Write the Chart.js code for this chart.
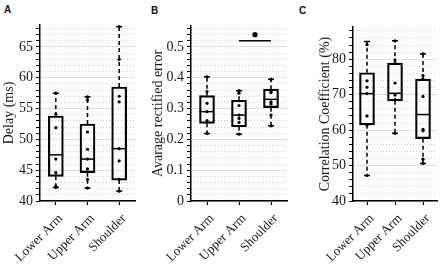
<!DOCTYPE html>
<html><head><meta charset="utf-8">
<script src="https://cdn.jsdelivr.net/npm/chart.js@4.4.1/dist/chart.umd.min.js"></script>
<style>
html,body{margin:0;padding:0;background:#fff;}
body{width:446px;height:269px;position:relative;overflow:hidden;}
.p{position:absolute;top:0;}
.lbl{position:absolute;font:bold 10px "Liberation Sans",Arial,sans-serif;color:#111;}
</style></head><body>
<div class="lbl" style="left:4px;top:4px">A</div>
<div class="lbl" style="left:151px;top:5px">B</div>
<div class="lbl" style="left:299px;top:5px">C</div>
<div class="p" style="left:0px"><canvas id="cA" width="148" height="269"></canvas></div>
<div class="p" style="left:148px"><canvas id="cB" width="148" height="269"></canvas></div>
<div class="p" style="left:296px"><canvas id="cC" width="150" height="269"></canvas></div>
<script>
const categories = ['Lower Arm', 'Upper Arm', 'Shoulder'];

// Panel A: Delay (ms)
const delayTicks = [40, 45, 50, 55, 60, 65];
const delayMin = [42.2, 42.1, 41.6];
const delayQ1 = [44.0, 44.6, 43.4];
const delayMedian = [47.5, 46.8, 48.5];
const delayQ3 = [53.8, 52.5, 58.5];
const delayMax = [57.5, 56.9, 68.3];
const delayLowerArm = [57.5, 54.1, 51.9, 46.8, 44.6, 42.4, 42.2];
const delayUpperArm = [56.9, 56.4, 51.2, 48.4, 46.8, 45.2, 43.5, 42.1];
const delayShoulder = [68.3, 63.0, 57.0, 56.1, 48.5, 46.5, 43.5, 41.6];

// Panel B: Avarage rectified error
const areTicks = [0, 0.1, 0.2, 0.3, 0.4, 0.5];
const areMin = [0.219, 0.217, 0.244];
const areQ1 = [0.252, 0.241, 0.303];
const areMedian = [0.290, 0.279, 0.330];
const areQ3 = [0.342, 0.327, 0.363];
const areMax = [0.403, 0.358, 0.395];
const areLowerArm = [0.403, 0.355, 0.317, 0.290, 0.261, 0.219];
const areUpperArm = [0.358, 0.350, 0.310, 0.279, 0.268, 0.255, 0.217];
const areShoulder = [0.395, 0.355, 0.352, 0.322, 0.315, 0.279, 0.244];
const areSigBar = 0.52;
const areSigStar = 0.54;

// Panel C: Correlation Coefficient (%)
const ccTicks = [40, 50, 60, 70, 80];
const ccMin = [47.2, 59.1, 50.6];
const ccQ1 = [61.5, 68.3, 57.6];
const ccMedian = [70.3, 70.4, 64.4];
const ccQ3 = [76.2, 78.9, 74.4];
const ccMax = [85.0, 85.2, 81.5];
const ccLowerArm = [84.1, 73.9, 72.1, 70.3, 64.0, 61.4, 47.2];
const ccUpperArm = [85.2, 79.8, 78.9, 73.3, 69.9, 68.6, 59.1];
const ccShoulder = [81.5, 75.4, 74.4, 69.5, 60.2, 59.8, 51.8, 50.6];

const SERIF = '"Liberation Serif", "Times New Roman", serif';
const TXT = '#1a1a1a';

function makePanel(o) {
  const minorVals = [];
  const nSteps = Math.floor((o.yMax - o.yMin) / o.minorStep + 1e-9);
  for (let k = 0; k <= nSteps; k++) minorVals.push(+(o.yMin + k * o.minorStep).toFixed(6));
  const isMajor = v => o.majorTicks.some(t => Math.abs(t - v) < 1e-9);
  const setTicks = s => { s.ticks = minorVals.map(v => ({value: v})); };

  const xy = (arr) => categories.map((c, i) => ({x: i, y: arr[i]}));
  const whisk = [];
  categories.forEach((c, i) => {
    whisk.push({x: i, y: o.q3[i]}, {x: i, y: o.max[i]}, {x: i, y: null});
    whisk.push({x: i, y: o.q1[i]}, {x: i, y: o.min[i]}, {x: i, y: null});
  });
  const pts = [];
  o.points.forEach((arr, i) => arr.forEach(v => pts.push({x: i, y: v})));

  const datasets = [
    {type: 'scatter', data: pts, pointRadius: 1.6, pointBackgroundColor: '#000', pointBorderWidth: 0, order: 0},
    {type: 'scatter', data: xy(o.median), pointStyle: 'line', pointRadius: 7.5, pointBorderColor: '#000', pointBorderWidth: 1.5, order: 1},
    {type: 'scatter', data: xy(o.min).concat(xy(o.max)), pointStyle: 'line', pointRadius: 3, pointBorderColor: '#000', pointBorderWidth: 1.5, order: 2},
    {type: 'line', data: whisk, borderColor: '#000', borderWidth: 1.5, borderDash: [4, 3], pointRadius: 0, spanGaps: false, order: 3},
    {type: 'bar', data: categories.map((c, i) => ({x: i, y: [o.q1[i], o.q3[i]]})), backgroundColor: 'rgba(0,0,0,0)', borderColor: '#000', borderWidth: 1.5, borderSkipped: false, barThickness: 15, order: 4}
  ].concat(o.extra || []);

  new Chart(document.getElementById(o.id), {
    type: 'bar',
    data: {datasets},
    options: {
      responsive: false, animation: false, events: [],
      layout: {padding: {left: 0, top: o.top, right: o.right, bottom: 0}},
      plugins: {legend: {display: false}, tooltip: {enabled: false}},
      scales: {
        x: {
          type: 'linear', min: -0.5, max: 2.5, offset: false,
          afterBuildTicks: s => { s.ticks = categories.map((c, i) => ({value: i})); },
          afterFit: s => { s.height = 68; s.paddingLeft = 0; s.paddingRight = 0; },
          ticks: {callback: v => categories[Math.round(v)], maxRotation: 45, minRotation: 45, autoSkip: false,
                  font: {family: SERIF, size: 13}, color: TXT, padding: 6, labelOffset: 5},
          grid: {drawOnChartArea: false, drawTicks: true, tickLength: 4, tickColor: '#000', tickWidth: 1, offset: false},
          border: {color: '#000', width: 1.5}
        },
        ym: {
          position: 'left', min: o.yMin, max: o.yMax,
          afterBuildTicks: setTicks,
          afterFit: s => { s.width = 0; },
          ticks: {display: false},
          grid: {drawTicks: false, color: ctx => isMajor(ctx.tick.value) ? 'rgba(0,0,0,0)' : '#cfcfcf', lineWidth: 1},
          border: {display: false, dash: [1, 2]}
        },
        y: {
          position: 'left', min: o.yMin, max: o.yMax,
          afterBuildTicks: setTicks,
          afterFit: s => { s.width = o.yWidth; },
          ticks: {callback: v => isMajor(v) ? String(o.majorTicks.find(t => Math.abs(t - v) < 1e-9)) : '',
                  font: {family: SERIF, size: 14}, color: TXT, padding: 3, autoSkip: false},
          grid: {color: ctx => isMajor(ctx.tick.value) ? '#e0e0e0' : 'rgba(0,0,0,0)', lineWidth: 1,
                 drawTicks: true, tickLength: 4, tickColor: '#000', tickWidth: 1},
          border: {color: '#000', width: 1.5},
          title: {display: true, text: o.title, font: {family: SERIF, size: 14}, color: TXT, padding: {top: o.titlePad, bottom: 0}}
        }
      }
    }
  });
}

makePanel({
  id: 'cA', title: 'Delay (ms)', yMin: 40, yMax: 68.57, minorStep: 1, majorTicks: delayTicks,
  min: delayMin, q1: delayQ1, median: delayMedian, q3: delayQ3, max: delayMax,
  points: [delayLowerArm, delayUpperArm, delayShoulder],
  top: 25, right: 13, yWidth: 40, titlePad: 1
});

makePanel({
  id: 'cB', title: 'Avarage rectified error', yMin: 0, yMax: 0.568, minorStep: 0.02, majorTicks: areTicks,
  min: areMin, q1: areQ1, median: areMedian, q3: areQ3, max: areMax,
  points: [areLowerArm, areUpperArm, areShoulder],
  top: 26, right: 3, yWidth: 43, titlePad: 1.6,
  extra: [
    {type: 'line', data: [{x: 1, y: areSigBar}, {x: 2, y: areSigBar}], borderColor: '#000', borderWidth: 1.5, pointRadius: 0, order: 5},
    {type: 'scatter', data: [{x: 1.5, y: areSigStar}], pointRadius: 2.6, pointBackgroundColor: '#000', pointBorderWidth: 0, order: 6}
  ]
});

makePanel({
  id: 'cC', title: 'Correlation Coefficient (%)', yMin: 40, yMax: 89.1, minorStep: 2, majorTicks: ccTicks,
  min: ccMin, q1: ccQ1, median: ccMedian, q3: ccQ3, max: ccMax,
  points: [ccLowerArm, ccUpperArm, ccShoulder],
  top: 27, right: 3, yWidth: 57, titlePad: 21
});
</script>
</body></html>
